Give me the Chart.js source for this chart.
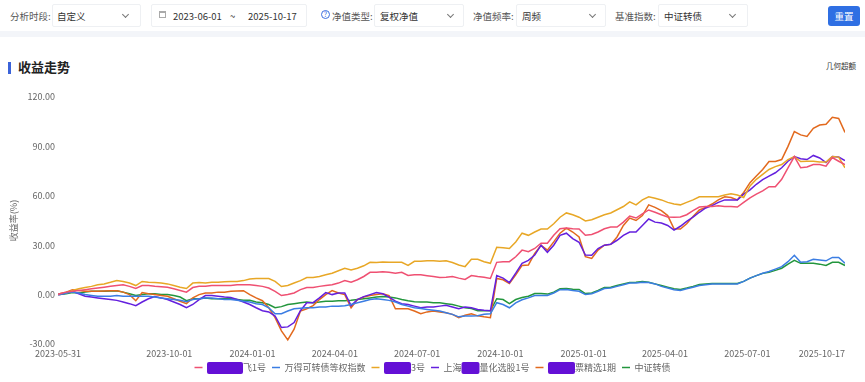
<!DOCTYPE html>
<html><head><meta charset="utf-8">
<script src="https://cdn.jsdelivr.net/npm/chart.js@4.4.1/dist/chart.umd.min.js"></script>
<style>
html,body{margin:0;padding:0;width:865px;height:382px;overflow:hidden;background:#fff;font-family:"Noto Sans CJK SC","Noto Sans",sans-serif;}
.abs{position:absolute;white-space:nowrap;}
.lbl{font-size:9.5px;color:#555;line-height:14px;top:9px;}
.val{font-size:9.5px;color:#333;line-height:14px;top:9px;}
.box{top:4px;height:23px;border:1px solid #eef0f3;border-radius:2px;box-sizing:border-box;}
.chev{top:12px;width:4px;height:4px;border-right:1px solid #777;border-bottom:1px solid #777;transform:rotate(45deg);}
#wrap{position:absolute;left:0;top:0;width:865px;height:382px;}
</style></head>
<body>
<div class="abs" style="left:0;top:31px;width:865px;height:6px;background:#f3f5f9;"></div>

<div class="abs lbl" style="left:10px;">分析时段:</div>
<div class="abs box" style="left:52px;width:89px;"></div>
<div class="abs val" style="left:57px;">自定义</div>
<div class="abs chev" style="left:123px;"></div>

<div class="abs box" style="left:151px;width:156px;"></div>
<div class="abs" style="left:159px;top:11px;width:7px;height:7px;border:1px solid #aaa;border-top-width:2px;box-sizing:border-box;"></div>
<div class="abs val" style="left:173px;">2023-06-01</div>
<div class="abs val" style="left:230px;">~</div>
<div class="abs val" style="left:248px;">2025-10-17</div>

<div class="abs" style="left:321px;top:10px;width:9px;height:9px;border:1px solid #3d6fe0;border-radius:50%;box-sizing:border-box;font-size:7px;line-height:7px;text-align:center;color:#3d6fe0;">?</div>
<div class="abs lbl" style="left:332px;">净值类型:</div>
<div class="abs box" style="left:374px;width:90px;"></div>
<div class="abs val" style="left:380px;">复权净值</div>
<div class="abs chev" style="left:448px;"></div>

<div class="abs lbl" style="left:473px;">净值频率:</div>
<div class="abs box" style="left:516px;width:90px;"></div>
<div class="abs val" style="left:522px;">周频</div>
<div class="abs chev" style="left:590px;"></div>

<div class="abs lbl" style="left:615px;">基准指数:</div>
<div class="abs box" style="left:658px;width:90px;"></div>
<div class="abs val" style="left:664px;">中证转债</div>
<div class="abs chev" style="left:730px;"></div>

<div class="abs" style="left:828px;top:6px;width:32px;height:20px;background:#2f6fe3;border-radius:3px;color:#fff;font-size:9.5px;line-height:20px;text-align:center;">重置</div>

<div class="abs" style="left:8px;top:62px;width:3px;height:12px;background:#3b63d9;"></div>
<div class="abs" style="left:18px;top:58px;font-size:13px;font-weight:bold;color:#222;line-height:18px;">收益走势</div>
<div class="abs" style="left:826px;top:61px;font-size:7.5px;color:#333;line-height:10px;">几何超额</div>

<div id="wrap"><canvas id="c" width="865" height="382"></canvas></div>

<script>
// ---- data ----
const startDate = '2023-05-31';
const dayOffsets = [0];
for (let k = 0; k < 125; k++) dayOffsets.push(2 + 7 * k);   // weekly Fridays 2023-06-02 .. 2025-10-17

const xTickDates = ['2023-05-31','2023-10-01','2024-01-01','2024-04-01','2024-07-01','2024-10-01','2025-01-01','2025-04-01','2025-07-01','2025-10-17'];
const yTicks = [-30, 0, 30, 60, 90, 120];

const seriesNames = ['\u3000\u3000\u3000\u3000飞1号','万得可转债等权指数','\u3000\u3000\u30003号','上海\u3000\u3000量化选股1号','\u3000\u3000\u3000票精选1期','中证转债'];
const redactChars = [[0,4],null,[0,3],[2,4],[0,3],null];
const seriesColors = ['#ef5072','#3b7de3','#e8a726','#6420de','#e2691d','#23963d'];

const pinkFei = [0,0.5,1.5,2,2.5,3,3.5,4,4.5,5,
5.5,6,5,3.7,5.5,5.5,5,4.8,4.5,3.5,
2.5,1.5,4.3,5,5,5.5,5.5,5.5,5.5,6,
6,6,5.5,5,4,2,-0.6,0,1,3,
4.3,4.3,5,5.5,6,7,8.6,7.5,9,11,
13.5,13.5,13.8,13.5,13,13.5,11.6,12,12,11.5,
11,10.4,10.5,11,10,9.2,11.6,11,10.5,9.8,
19.6,20,20,23,27,26,28,31.2,31.2,36,
40,40.4,40,39.8,36,36.5,38,40,41,41,
44,47.7,46.5,49,51.4,50,48.5,47.1,47,47.1,
48.5,51,53.2,53.5,53.5,53.9,53.5,53.5,53.2,56,
58.8,61,63,65.5,65.5,70,77,83.8,77,77.5,
79,79,78,83.2,81,79];

const windCB = [0,0,1,1.5,1,0,-0.5,-1,-1,-1,
-0.5,-1,-1,-1,-1,-1,-1.5,-2,-2.5,-3,
-3.5,-4.3,-3,-2.5,-2,-2,-2.5,-3,-3,-3.5,
-4,-4.5,-5.5,-6,-8,-11.6,-11.6,-10,-8.6,-8.3,
-8,-8,-7.5,-7.5,-7,-7,-6.7,-6,-5,-4,
-3,-2.5,-3,-3.5,-4.5,-6,-7,-8,-8.5,-9,
-9.5,-10,-11,-12,-13.5,-13,-13,-12.9,-12,-11.6,
-4.9,-6,-8,-5,-3.1,-2,-0.6,-0.5,-0.5,1,
3,3.1,2.5,2,0,0.5,2,3.7,4,5,
6,7,7,7.5,7.3,6.5,5,4,3,2.5,
3.5,4.5,5.5,6,6.5,6.5,6.5,6.5,6.5,8,
10,11.5,13,14,15.5,17,20,23.9,19.6,20,
21.4,21,20.5,22.6,22.6,19];

const gold3 = [0,0.5,1,2.5,3.5,4.3,5,6,6.5,7.5,
8.6,8,7,5.5,8,7.5,7.3,7,6.5,5.5,
4.5,3.7,7,7.3,7,7.5,7.5,7.8,8,8,
8.5,9.5,9.8,9.8,9.8,8,4.9,5.5,7,8.5,
10.4,10.4,11,12,13,14.5,16,15,16,17.5,
19.6,19.5,19.8,19.6,19.6,19.6,17.7,20.2,20.2,20.5,
20.5,20.3,20.5,19.5,18,17,21.4,21.4,20,19,
28.8,28.5,28,32,37.3,36,38,39.8,39.8,43,
47,49.6,48.5,47,44.7,45.5,47,48.5,49.6,51.5,
53.5,56.3,54.5,57.5,59.4,58.5,57.5,56,55,54.5,
56,57.5,59.4,59.4,59.4,59.4,60.5,61.2,60.5,59,
66,70,73,76,77.7,79,82,83.8,80.8,81,
81,80.5,80.5,83.8,83.5,77];

const quantSH = [0,0,1,2,0.5,-1,-1.5,-2,-2.5,-3,
-3.5,-4.5,-5.5,-6.7,-4.5,-2.5,-1.2,-2,-3,-4.5,
-6,-8,-6,-3,-0.6,-0.6,-1,-1.5,-1.8,-3,
-4.5,-6,-8,-9.8,-10.5,-13,-20,-19.6,-17,-9.8,
-4.9,-4.9,-2,1.2,0,1,1,-6.7,-3,-1.2,
0,1.2,0.5,-1.5,-4,-5.5,-6,-7,-8,-7.5,
-7.5,-7,-6.5,-7.5,-8.6,-7.5,-8,-9,-9.5,-9.8,
11.6,10,7.3,13,19,20.8,24,30,25.7,30,
36,37.3,34,31.8,24,23.9,28,30,30.6,33,
36,38,38,42,45.9,44,43.5,42,39.2,41.5,
44.5,47.1,50,52.6,54,56,57.5,57.5,57.5,61,
63.6,67,69.8,72,74,77,81,83.8,82.5,82,
84.5,83,80.2,83.8,83.5,81.4];

const select1 = [0,0.5,1.5,3,2.5,2,2,2,2.2,2.4,
2.4,1.5,0,-3.7,1.2,0.5,0,-0.5,-1,-2.5,
-4,-5.5,-2,0,1,1,1.5,1.5,2,2.2,
2.4,0,-2,-3.7,-8,-14,-22,-27.5,-21,-10,
-8.6,-6.7,-3,0,2.4,1,0,-8,-3,-1.5,
-0.5,0,0.5,-0.6,-8.6,-8.6,-8.6,-10,-11.6,-10.5,
-10,-10.5,-11,-12,-14,-12.5,-11.6,-12.9,-13.5,-14,
9.8,9,6.7,12,17.7,18,25,30,27,32,
37.3,40.4,38,35,23,22,27,30,30.5,35,
42,46.5,45,48,54.5,53,51,48,40,39.8,
43,47.5,51.4,53,55,57.5,59.4,59,57.5,62,
68,72,76,80.8,80.8,82,90,99,97,96,
101,103,103.5,107.7,107,98.5];

const csiCB = [0,0,0.5,1.2,1,1.5,2,2,2,2.2,
2.4,1.5,0.5,-0.6,0,0.5,0.5,0,0,-0.5,
-1.5,-3.7,-2.5,-2.5,-2,-2.5,-2.5,-2.5,-2.5,-3,
-3.5,-3.5,-4.5,-4.9,-6,-8,-7.3,-6,-5.5,-5,
-4.5,-4.9,-4.5,-4,-4,-3.7,-3.7,-3.5,-3,-2.5,
-2,-1.5,-1.2,-1.5,-2,-3,-3.8,-4.3,-4.5,-4.5,
-5,-5,-5.5,-6,-7,-8,-8.5,-9.8,-9.8,-9.8,
-2.5,-3,-5.5,-3,-1.8,-1,0.6,0.6,0.3,1.5,
3.5,3.7,3.3,3.1,0.6,1,2.5,4.3,4.5,5.5,
6.5,7.3,7.5,8,7.5,6.5,5.5,4.5,3.5,3.1,
4,5,6.1,6.5,6.7,6.7,6.7,6.7,6.7,8,
10,11.5,12.9,13.5,14.7,16,18.5,20.8,19,19,
19,18.5,17.7,19.6,19.6,17.7];

const allSeries = [pinkFei, windCB, gold3, quantSH, select1, csiCB];

// ---- helpers ----
const DAY = 86400000;
const t0 = Date.UTC(2023, 4, 31);
function dayOf(s){ const p = s.split('-').map(Number); return Math.round((Date.UTC(p[0], p[1]-1, p[2]) - t0) / DAY); }

const datasets = allSeries.map((arr, i) => ({
  label: seriesNames[i],
  data: arr.map((v, j) => ({x: dayOffsets[j], y: v})),
  borderColor: seriesColors[i],
  backgroundColor: seriesColors[i],
  borderWidth: 1.5,
  pointRadius: 0,
  tension: 0,
  fill: false
}));

const FONT = '"Noto Sans CJK SC","Noto Sans",sans-serif';

const xLabelPlugin = {
  id: 'xLabels',
  afterDraw(chart){
    const ctx = chart.ctx, xs = chart.scales.x, area = chart.chartArea;
    ctx.save();
    ctx.font = '9px ' + FONT;
    ctx.fillStyle = '#666';
    ctx.textBaseline = 'middle';
    xTickDates.forEach((d, i) => {
      const px = xs.getPixelForValue(dayOf(d));
      ctx.textAlign = (i === xTickDates.length - 1) ? 'right' : 'center';
      ctx.fillText(d, px, area.bottom + 10);
    });
    ctx.restore();
  }
};

const redactPlugin = {
  id: 'redact',
  afterDraw(chart){
    const lg = chart.legend; if (!lg || !lg.legendHitBoxes) return;
    const ctx = chart.ctx;
    ctx.save();
    ctx.font = '9px ' + FONT;
    lg.legendHitBoxes.forEach((hb, i) => {
      const r = redactChars[i]; if (!r) return;
      const txt = seriesNames[i];
      const tx = hb.left + 8 + 4.5;
      const a = tx + ctx.measureText(txt.slice(0, r[0])).width;
      const b = tx + ctx.measureText(txt.slice(0, r[1])).width;
      ctx.fillStyle = '#6410d6';
      ctx.beginPath();
      ctx.roundRect(a, hb.top - 1, b - a, hb.height + 3, 2);
      ctx.fill();
    });
    ctx.restore();
  }
};

Chart.defaults.font.family = FONT;

new Chart(document.getElementById('c'), {
  type: 'line',
  data: { datasets },
  plugins: [xLabelPlugin, redactPlugin],
  options: {
    responsive: false,
    animation: false,
    layout: { padding: { top: 97, right: 0, left: 0, bottom: 0 } },
    scales: {
      x: {
        type: 'linear', min: 0, max: dayOf('2025-10-17'),
        grid: { display: false, drawTicks: false },
        border: { display: false },
        ticks: { display: false },
        afterFit: s => { s.height = 13; }
      },
      y: {
        min: -30, max: 120,
        afterBuildTicks: s => { s.ticks = yTicks.map(v => ({ value: v })); },
        grid: { display: false, drawTicks: false },
        border: { display: false },
        ticks: { padding: 3, color: '#666', font: { size: 9 }, callback: v => Number(v).toFixed(2) },
        title: { display: true, text: '收益率(%)', color: '#666', font: { size: 9 }, padding: { top: 8, bottom: 0 } },
        afterFit: s => { s.width = 58; }
      },
      yRight: {
        position: 'right', min: -30, max: 120,
        grid: { display: false, drawTicks: false },
        border: { display: false },
        ticks: { display: false },
        afterFit: s => { s.width = 20; }
      }
    },
    plugins: {
      legend: {
        position: 'bottom',
        labels: { usePointStyle: true, pointStyle: 'line', pointStyleWidth: 8, boxHeight: 9, font: { size: 9 }, color: '#666', padding: 6 }
      },
      tooltip: { enabled: false }
    }
  }
});
</script>
</body></html>
